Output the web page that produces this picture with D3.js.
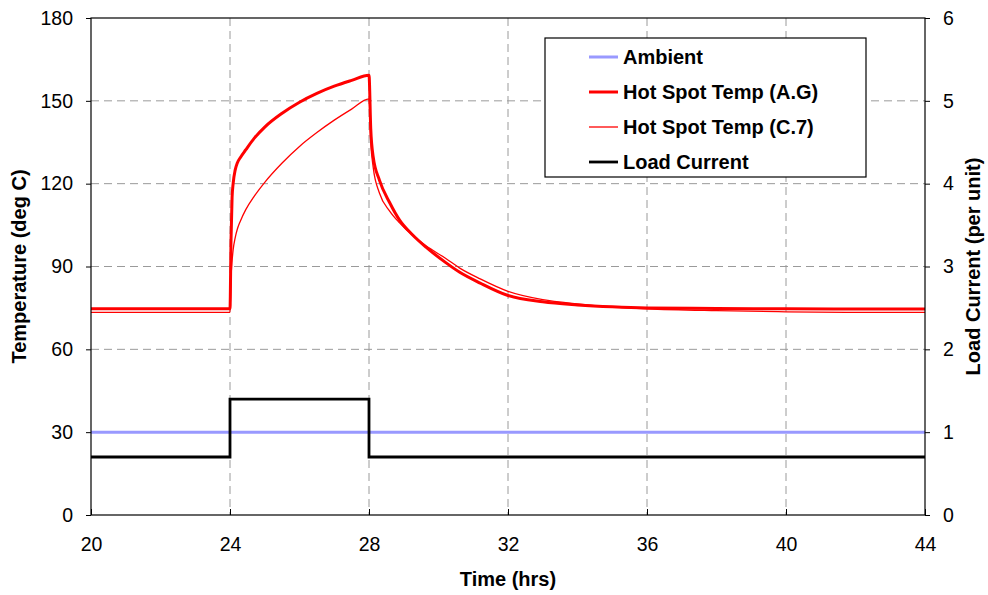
<!DOCTYPE html>
<html>
<head>
<meta charset="utf-8">
<script src="https://cdn.jsdelivr.net/npm/d3@7"></script>
<style>
  body { margin: 0; background: #fff; }
  svg text { font-family: "Liberation Sans", Arial, sans-serif; fill: #000; }
  .axis path, .axis line { stroke: #000; }
  .axis text { font-size: 19.5px; }
  .title { font-size: 20px; font-weight: bold; }
  .legend text { font-size: 20px; font-weight: bold; }
</style>
</head>
<body>
<div id="chart-area"></div>
<script>

// SVG size
var width = 988,
    height = 595;

// plot box
var plotLeft = 91, plotRight = 925, plotTop = 18, plotBottom = 515;

// ---- data ----
var timeTicks = [20, 24, 28, 32, 36, 40, 44];
var tempTicks = [0, 30, 60, 90, 120, 150, 180];
var loadTicks = [0, 1, 2, 3, 4, 5, 6];

// ambient temperature (deg C)
var ambientTime = [20, 44];
var ambientTemp = [30, 30];

// load current (per unit), stepped
var loadTime = [20, 24, 28, 44];
var loadValue = [0.7, 1.4, 0.7, 0.7];

// hot spot temperatures
var hsTime = [20, 24, 24.03, 24.06, 24.09, 24.15, 24.21, 24.3, 24.45, 24.7, 25, 25.5, 26, 26.5, 27, 27.5, 28,
              28.05, 28.12, 28.3, 28.6, 28.88, 29.25, 29.64, 30.2, 30.6, 31.2, 32, 33, 34, 35, 36, 38, 40, 42, 44];
var hotSpotAG = [74.7, 74.7, 100, 115, 120, 125, 127.5, 129.5, 132.2, 136.5, 140.5, 145.5, 149.5, 152.7, 155.3, 157.4, 159.3,
                 140, 129.8, 121.3, 113, 106.8, 101.5, 97, 91.5, 88, 84, 79.5, 77.2, 76.1, 75.4, 75, 74.8, 74.7, 74.6, 74.6];
var hotSpotC7 = [73.4, 73.4, 86, 92, 96, 100.5, 103.5, 106.5, 110.5, 115.5, 120.5, 127.5, 133.5, 138.5, 143, 147, 150.7,
                 135, 126, 116.6, 110, 105.8, 101.3, 97.5, 93, 89.5, 85.5, 81, 78, 76.5, 75.4, 74.7, 74, 73.6, 73.4, 73.4];

var seriesNames = ["Ambient", "Hot Spot Temp (A.G)", "Hot Spot Temp (C.7)", "Load Current"];
var seriesColors = ["#9999ff", "#ff0000", "#ff0000", "#000000"];
var seriesWidths = [3, 3, 1.3, 2.8];

var svg = d3.select("#chart-area")
    .append("svg")
    .attr("width", width)
    .attr("height", height);

var x = d3.scaleLinear().domain([20, 44]).range([plotLeft, plotRight]);
var yTemp = d3.scaleLinear().domain([0, 180]).range([plotBottom, plotTop]);
var yLoad = d3.scaleLinear().domain([0, 6]).range([plotBottom, plotTop]);

// dashed grid
var grid = svg.append("g")
    .attr("stroke", "#9a9a9a")
    .attr("stroke-width", 1)
    .attr("stroke-dasharray", "8,5");

grid.selectAll(".vgrid")
    .data(timeTicks.slice(1, -1))
    .enter().append("line")
    .attr("x1", function (d) { return x(d); })
    .attr("x2", function (d) { return x(d); })
    .attr("y1", plotTop)
    .attr("y2", plotBottom);

grid.selectAll(".hgrid")
    .data(tempTicks.slice(1, -1))
    .enter().append("line")
    .attr("x1", plotLeft)
    .attr("x2", plotRight)
    .attr("y1", function (d) { return yTemp(d); })
    .attr("y2", function (d) { return yTemp(d); });

// lines
var tempLine = d3.line()
    .x(function (d) { return x(d[0]); })
    .y(function (d) { return yTemp(d[1]); })
    .curve(d3.curveMonotoneX);

var loadLine = d3.line()
    .x(function (d) { return x(d[0]); })
    .y(function (d) { return yLoad(d[1]); })
    .curve(d3.curveStepAfter);

svg.append("path")
    .datum(d3.zip(ambientTime, ambientTemp))
    .attr("fill", "none")
    .attr("stroke", seriesColors[0])
    .attr("stroke-width", seriesWidths[0])
    .attr("d", tempLine);

svg.append("path")
    .datum(d3.zip(loadTime, loadValue))
    .attr("fill", "none")
    .attr("stroke", seriesColors[3])
    .attr("stroke-width", seriesWidths[3])
    .attr("d", loadLine);

svg.append("path")
    .datum(d3.zip(hsTime, hotSpotC7))
    .attr("fill", "none")
    .attr("stroke", seriesColors[2])
    .attr("stroke-width", seriesWidths[2])
    .attr("stroke-linejoin", "round")
    .attr("d", tempLine);

svg.append("path")
    .datum(d3.zip(hsTime, hotSpotAG))
    .attr("fill", "none")
    .attr("stroke", seriesColors[1])
    .attr("stroke-width", seriesWidths[1])
    .attr("stroke-linejoin", "round")
    .attr("d", tempLine);

// frame
svg.append("rect")
    .attr("x", plotLeft)
    .attr("y", plotTop)
    .attr("width", plotRight - plotLeft)
    .attr("height", plotBottom - plotTop)
    .attr("fill", "none")
    .attr("stroke", "#000")
    .attr("stroke-width", 1.2);

// axes
var xAxis = d3.axisBottom(x).tickValues(timeTicks).tickSizeInner(-6).tickSizeOuter(0);
var yAxis = d3.axisLeft(yTemp).tickValues(tempTicks).tickSize(5).tickPadding(13);
var y2Axis = d3.axisRight(yLoad).tickValues(loadTicks).tickFormat(d3.format("d")).tickSize(5).tickPadding(13);

svg.append("g")
    .attr("class", "axis x-axis")
    .attr("transform", "translate(0," + plotBottom + ")")
    .call(xAxis)
    .call(function (g) {
        g.select(".domain").remove();
        g.selectAll("text").attr("y", 22);
    });

svg.append("g")
    .attr("class", "axis y-axis")
    .attr("transform", "translate(" + plotLeft + ",0)")
    .call(yAxis)
    .call(function (g) { g.select(".domain").remove(); });

svg.append("g")
    .attr("class", "axis y2-axis")
    .attr("transform", "translate(" + plotRight + ",0)")
    .call(y2Axis)
    .call(function (g) { g.select(".domain").remove(); });

svg.selectAll(".axis").attr("font-size", null).attr("font-family", null);

// axis titles
svg.append("text")
    .attr("class", "title")
    .attr("text-anchor", "middle")
    .attr("x", (plotLeft + plotRight) / 2)
    .attr("y", 586)
    .text("Time (hrs)");

svg.append("text")
    .attr("class", "title")
    .attr("text-anchor", "middle")
    .attr("transform", "translate(26," + ((plotTop + plotBottom) / 2) + ")rotate(-90)")
    .text("Temperature (deg C)");

svg.append("text")
    .attr("class", "title")
    .attr("text-anchor", "middle")
    .attr("transform", "translate(980," + ((plotTop + plotBottom) / 2) + ")rotate(-90)")
    .text("Load Current (per unit)");

// legend
var legend = svg.append("g").attr("class", "legend");

legend.append("rect")
    .attr("x", 545)
    .attr("y", 38)
    .attr("width", 321)
    .attr("height", 139)
    .attr("fill", "#fff")
    .attr("stroke", "#000")
    .attr("stroke-width", 1.2);

var rows = legend.selectAll(".row")
    .data(seriesNames)
    .enter().append("g")
    .attr("transform", function (d, i) { return "translate(0," + (57 + i * 35) + ")"; });

rows.append("line")
    .attr("x1", 589)
    .attr("x2", 618)
    .attr("stroke", function (d, i) { return seriesColors[i]; })
    .attr("stroke-width", function (d, i) { return seriesWidths[i]; });

rows.append("text")
    .attr("x", 623)
    .attr("dy", "0.35em")
    .text(function (d) { return d; });

</script>
</body>
</html>
